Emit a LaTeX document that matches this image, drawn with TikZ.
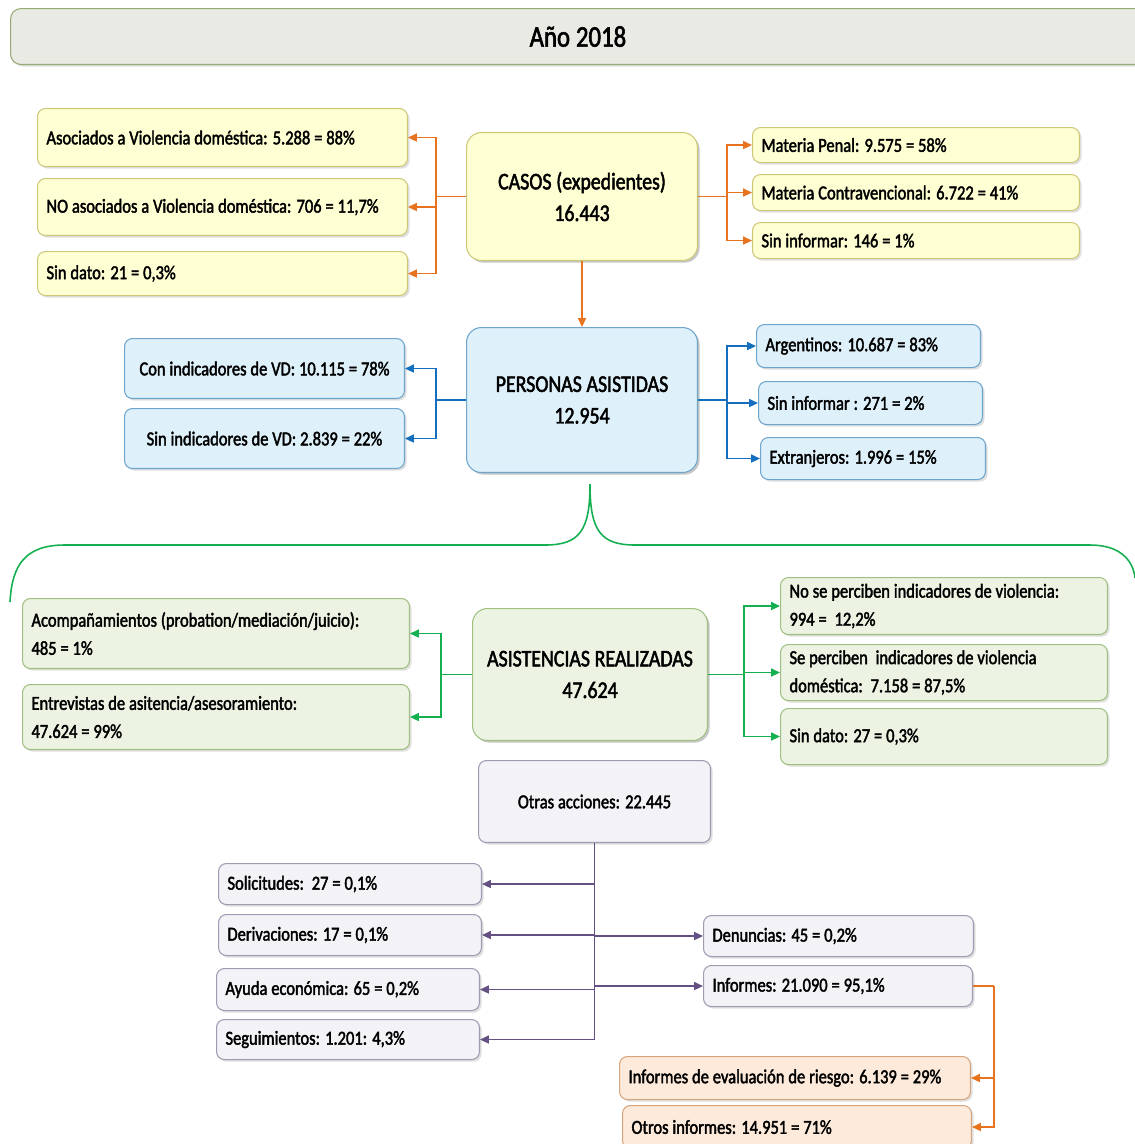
\documentclass[tikz,border=0pt]{standalone}
\usepackage{fontspec}
\setmainfont{Carlito}[FakeStretch=0.83,FakeBold=2,WordSpace=1.05]
\usetikzlibrary{arrows.meta,shadows}

\definecolor{ylwFill}{RGB}{255,255,212}
\definecolor{ylwLine}{RGB}{205,200,120}
\definecolor{bluFill}{RGB}{222,240,250}
\definecolor{bluLine}{RGB}{110,165,205}
\definecolor{grnFill}{RGB}{236,243,227}
\definecolor{grnLine}{RGB}{160,192,130}
\definecolor{purFill}{RGB}{243,242,247}
\definecolor{purLine}{RGB}{160,155,178}
\definecolor{pchFill}{RGB}{253,234,218}
\definecolor{pchLine}{RGB}{214,165,125}
\definecolor{ttlFill}{RGB}{233,234,228}
\definecolor{ttlLine}{RGB}{150,170,115}
\definecolor{orgArr}{RGB}{232,115,30}
\definecolor{bluArr}{RGB}{20,110,190}
\definecolor{grnArr}{RGB}{20,175,80}
\definecolor{purArr}{RGB}{100,80,130}

\tikzset{
  box/.style={draw, rounded corners=4.5pt, line width=0.6pt, anchor=north west,
    inner xsep=0.18cm, inner ysep=0pt, align=flush left,
    font=\fontsize{11.3}{16}\selectfont,
    drop shadow={shadow xshift=1.2pt, shadow yshift=-1.2pt, opacity=0.25}},
  hub/.style={box, rounded corners=8.5pt, align=center,
    font=\fontsize{13.6}{18}\selectfont},
  ybox/.style={box, fill=ylwFill, draw=ylwLine},
  bbox/.style={box, fill=bluFill, draw=bluLine},
  gbox/.style={box, fill=grnFill, draw=grnLine},
  pbox/.style={box, fill=purFill, draw=purLine},
  obox/.style={box, fill=pchFill, draw=pchLine},
  arr/.style={line width=0.9pt, -{Triangle[length=5pt,width=4.5pt]}},
  oarr/.style={arr, orgArr},
  barr/.style={arr, bluArr},
  garr/.style={arr, grnArr},
  parr/.style={arr, purArr},
}

\begin{document}
\begin{tikzpicture}[x=0.02cm, y=-0.02cm]
    \useasboundingbox (0,0) rectangle (1135,1144);

    % title
    \node[box, fill=ttlFill, draw=ttlLine, rounded corners=6pt, align=center,
          minimum width=22.7cm, minimum height=1.12cm,
          font=\fontsize{17}{20}\selectfont] (title) at (10,8) {Año 2018};

    % casos
    \node[ybox, hub, minimum width=4.62cm, minimum height=2.56cm] (casos) at (466,132)
        {CASOS (expedientes)\\16.443};
    \node[ybox, text width=7.04cm, minimum height=1.16cm] (lA) at (37,108)
        {Asociados a Violencia doméstica: 5.288 = 88\%};
    \node[ybox, text width=7.04cm, minimum height=1.14cm] (lB) at (37,178)
        {NO asociados a Violencia doméstica: 706 = 11,7\%};
    \node[ybox, text width=7.04cm, minimum height=0.88cm] (lC) at (37,251)
        {Sin dato: 21 = 0,3\%};
    \node[ybox, text width=6.18cm, minimum height=0.7cm] (rA) at (752,127)
        {Materia Penal: 9.575 = 58\%};
    \node[ybox, text width=6.18cm, minimum height=0.72cm] (rB) at (752,174)
        {Materia Contravencional: 6.722 = 41\%};
    \node[ybox, text width=6.18cm, minimum height=0.72cm] (rC) at (752,222)
        {Sin informar: 146 = 1\%};

    \draw[oarr, -] (casos.west) -- ++(-30,0) coordinate (cL);
    \draw[oarr] (cL) |- (lA.east);
    \draw[oarr] (cL) |- (lB.east);
    \draw[oarr] (cL) |- (lC.east);
    \draw[oarr, -] (casos.east) -- ++(29,0) coordinate (cR);
    \draw[oarr] (cR) |- (rA.west);
    \draw[oarr] (cR) |- (rB.west);
    \draw[oarr] (cR) |- (rC.west);

    % personas
    \node[bbox, hub, minimum width=4.62cm, minimum height=2.9cm] (personas) at (466,327)
        {PERSONAS ASISTIDAS\\12.954};
    \draw[oarr] (casos) -- (personas);
    \node[bbox, align=flush center, text width=5.24cm, minimum height=1.2cm] (pA) at (124,338)
        {Con indicadores de VD: 10.115 = 78\%};
    \node[bbox, align=flush center, text width=5.24cm, minimum height=1.2cm] (pB) at (124,408)
        {Sin indicadores de VD: 2.839 = 22\%};
    \node[bbox, text width=4.12cm, minimum height=0.86cm] (qA) at (756,324)
        {Argentinos: 10.687 = 83\%};
    \node[bbox, text width=4.12cm, minimum height=0.86cm] (qB) at (758,381)
        {Sin informar : 271 = 2\%};
    \node[bbox, text width=4.14cm, minimum height=0.84cm] (qC) at (760,437)
        {Extranjeros: 1.996 = 15\%};

    \draw[barr, -] (personas.west) -- ++(-30,0) coordinate (pL);
    \draw[barr] (pL) |- (pA.east);
    \draw[barr] (pL) |- (pB.east);
    \draw[barr, -] (personas.east) -- ++(29,0) coordinate (pR);
    \draw[barr] (pR) |- (qA.west);
    \draw[barr] (pR) |- (qB.west);
    \draw[barr] (pR) |- (qC.west);

    % brace
    \draw[grnArr, line width=0.9pt] (10,602) .. controls (12,565) and (25,545) .. (65,545)
        -- (545,545) .. controls (580,545) and (590,530) .. (590,484)
        .. controls (590,530) and (600,545) .. (635,545)
        -- (1090,545) .. controls (1120,545) and (1133,560) .. (1135,578);

    % asistencias
    \node[gbox, hub, minimum width=4.7cm, minimum height=2.64cm] (asist) at (472,608)
        {ASISTENCIAS REALIZADAS\\47.624};
    \node[gbox, text width=7.38cm, minimum height=1.4cm] (aA) at (22,598)
        {Acompañamientos (probation/mediación/juicio):\\485 = 1\%};
    \node[gbox, text width=7.38cm, minimum height=1.3cm] (aB) at (22,684)
        {Entrevistas de asitencia/asesoramiento:\\47.624 = 99\%};
    \node[gbox, text width=6.18cm, minimum height=1.14cm] (bA) at (780,577)
        {No se perciben indicadores de violencia:\\994 =\ \ 12,2\%};
    \node[gbox, text width=6.18cm, minimum height=1.12cm] (bB) at (780,644)
        {Se perciben\ \ indicadores de violencia\\doméstica:\ \ 7.158 = 87,5\%};
    \node[gbox, text width=6.18cm, minimum height=1.12cm] (bC) at (780,708)
        {Sin dato: 27 = 0,3\%};

    \draw[garr, -] (asist.west) -- ++(-31,0) coordinate (aL);
    \draw[garr] (aL) |- (aA.east);
    \draw[garr] (aL) |- (aB.east);
    \draw[garr, -] (asist.east) -- ++(36,0) coordinate (aR);
    \draw[garr] (aR) |- (bA.west);
    \draw[garr] (aR) |- (bB.west);
    \draw[garr] (aR) |- (bC.west);

    % otras acciones
    \node[pbox, align=center, minimum width=4.64cm, minimum height=1.64cm] (otras) at (478,760)
        {Otras acciones: 22.445};
    \node[pbox, text width=4.9cm, minimum height=0.82cm] (gA) at (218,863)
        {Solicitudes:\ \ 27 = 0,1\%};
    \node[pbox, text width=4.9cm, minimum height=0.82cm] (gB) at (218,914)
        {Derivaciones: 17 = 0,1\%};
    \node[pbox, text width=4.9cm, minimum height=0.84cm] (gC) at (216,968)
        {Ayuda económica: 65 = 0,2\%};
    \node[pbox, text width=4.9cm, minimum height=0.8cm] (gD) at (216,1019)
        {Seguimientos: 1.201: 4,3\%};
    \node[pbox, text width=5.04cm, minimum height=0.82cm] (hA) at (703,915)
        {Denuncias: 45 = 0,2\%};
    \node[pbox, text width=5.02cm, minimum height=0.82cm] (hB) at (703,965)
        {Informes: 21.090 = 95,1\%};

    \draw[parr] (otras.south) |- (gA.east);
    \draw[parr] (otras.south) |- (gB.east);
    \draw[parr] (otras.south) |- (gC.east);
    \draw[parr] (otras.south) |- (gD.east);
    \draw[parr] (otras.south) |- (hA.west);
    \draw[parr] (otras.south) |- (hB.west);

    % informes
    \node[obox, text width=6.66cm, minimum height=0.86cm] (iA) at (619,1056)
        {Informes de evaluación de riesgo: 6.139 = 29\%};
    \node[obox, text width=6.62cm, minimum height=0.86cm] (iB) at (622,1105)
        {Otros informes: 14.951 = 71\%};

    \draw[oarr, -] (hB.east) -- ++(21,0) coordinate (iR);
    \draw[oarr] (iR) |- (iA.east);
    \draw[oarr] (iR) |- (iB.east);
\end{tikzpicture}
\end{document}
